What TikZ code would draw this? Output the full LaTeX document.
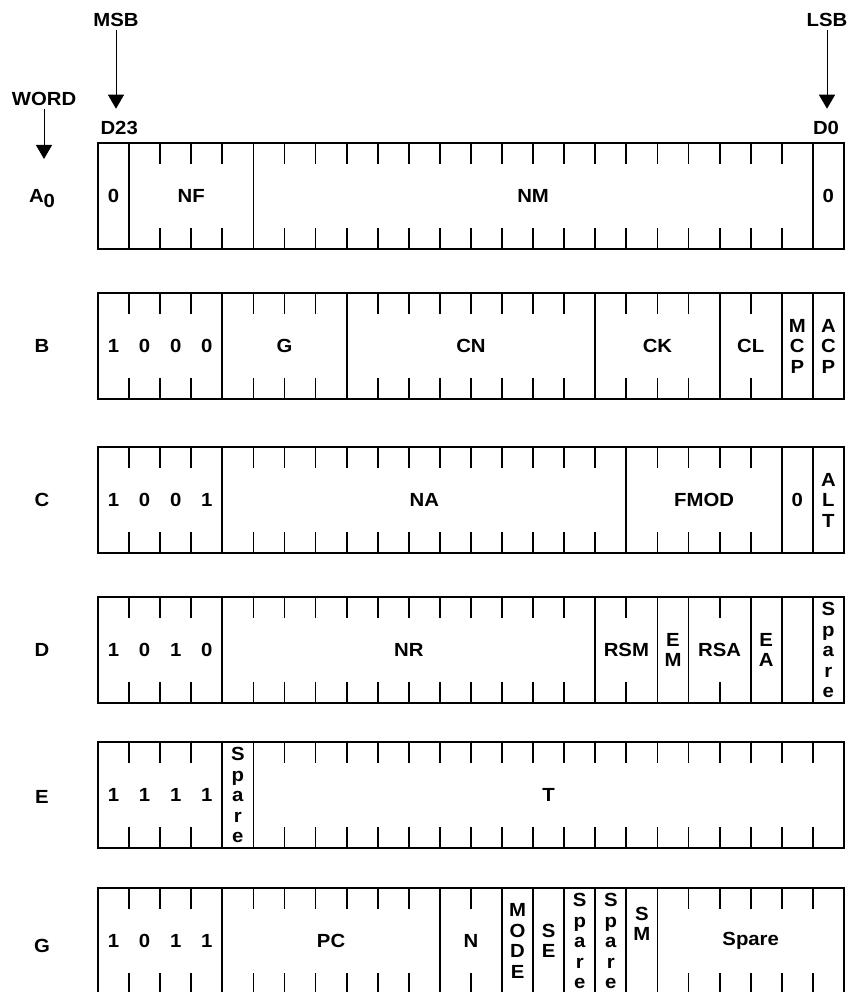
\documentclass[tikz,border=0pt]{standalone}
\usepackage{fontspec}
\setmainfont{Liberation Sans}[FakeStretch=1.07]
\usetikzlibrary{positioning,arrows.meta}

\newcommand{\bitw}{31.08pt}
\newcommand{\bv}[1]{\makebox[\bitw]{#1}}

\begin{document}
\begin{tikzpicture}[
        x=1pt, y=-1pt,
        font=\fontsize{19}{20.5}\selectfont\bfseries,
        fld/.style  = {draw, line width=1.8pt, minimum width=#1*\bitw, minimum height=106pt,
                       inner sep=0pt, outer sep=0pt, align=center},
        tick/.style = {line width=1.8pt},
        arr/.style  = {-{Triangle[width=16pt,length=14pt]}, line width=1pt},
        node distance = 0pt
    ]
        \useasboundingbox (0,0) rectangle (855,992);

        % bit ticks, top and bottom of every word
        \foreach \t in {143,293,447,597,742,888}
            \foreach \i in {1,...,23} {
                \draw[tick] (98+\i*31.08,\t) -- ++(0,21);
                \draw[tick] (98+\i*31.08,\t+106) -- ++(0,-21);
            }

        % A0
        \node[fld=1, anchor=north west] (a1) at (98,143) {0};
        \node[fld=4,  right=of a1] (a2) {NF};
        \node[fld=18, right=of a2] (a3) {NM};
        \node[fld=1,  right=of a3] (a4) {0};

        % B
        \node[fld=4, anchor=north west] (b1) at (98,293) {\bv1\bv0\bv0\bv0};
        \node[fld=4, right=of b1] (b2) {G};
        \node[fld=8, right=of b2] (b3) {CN};
        \node[fld=4, right=of b3] (b4) {CK};
        \node[fld=2, right=of b4] (b5) {CL};
        \node[fld=1, right=of b5] (b6) {M\\C\\P};
        \node[fld=1, right=of b6] (b7) {A\\C\\P};

        % C
        \node[fld=4, anchor=north west] (c1) at (98,447) {\bv1\bv0\bv0\bv1};
        \node[fld=13, right=of c1] (c2) {NA};
        \node[fld=5,  right=of c2] (c3) {FMOD};
        \node[fld=1,  right=of c3] (c4) {0};
        \node[fld=1,  right=of c4] (c5) {A\\L\\T};

        % D
        \node[fld=4, anchor=north west] (d1) at (98,597) {\bv1\bv0\bv1\bv0};
        \node[fld=12, right=of d1] (d2) {NR};
        \node[fld=2,  right=of d2] (d3) {RSM};
        \node[fld=1,  right=of d3] (d4) {E\\M};
        \node[fld=2,  right=of d4] (d5) {RSA};
        \node[fld=1,  right=of d5] (d6) {E\\A};
        \node[fld=1,  right=of d6] (d7) {};
        \node[fld=1,  right=of d7] (d8) {S\\p\\a\\r\\e};

        % E
        \node[fld=4, anchor=north west] (e1) at (98,742) {\bv1\bv1\bv1\bv1};
        \node[fld=1,  right=of e1] (e2) {S\\p\\a\\r\\e};
        \node[fld=19, right=of e2] (e3) {T};

        % G
        \node[fld=4, anchor=north west] (g1) at (98,888) {\bv1\bv0\bv1\bv1};
        \node[fld=7, right=of g1] (g2) {PC};
        \node[fld=2, right=of g2] (g3) {N};
        \node[fld=1, right=of g3] (g4) {M\\O\\D\\E};
        \node[fld=1, right=of g4] (g5) {S\\E};
        \node[fld=1, right=of g5] (g6) {S\\p\\a\\r\\e};
        \node[fld=1, right=of g6] (g7) {S\\p\\a\\r\\e};
        \node[fld=1, right=of g7] (g8) {};
        \node[fld=6, right=of g8] (g9) {Spare};
        \node[align=center] (g8t) at ([yshift=17pt]g8.center) {S\\M};

        % word names
        \node (wa) at (42,199) {A\raisebox{-5pt}{0}};
        \node (wb) at (42,346) {B};
        \node (wc) at (42,500) {C};
        \node (wd) at (42,650) {D};
        \node (we) at (42,797) {E};
        \node (wg) at (42,946) {G};

        % bit order
        \node (msb) at (116,20) {MSB};
        \node (lsb) at (827,20) {LSB};
        \node[anchor=west] (d23) at (97,128) {D23};
        \node (d0) at (826,128) {D0};
        \node (word) at (44,99) {WORD};
        \coordinate (wtip) at (44,159);
        \draw[arr, shorten >=9pt] (msb) -- (msb |- d23.north);
        \draw[arr, shorten >=9pt] (lsb) -- (lsb |- d0.north);
        \draw[arr] (word) -- (wtip);
    \end{tikzpicture}
\end{document}
